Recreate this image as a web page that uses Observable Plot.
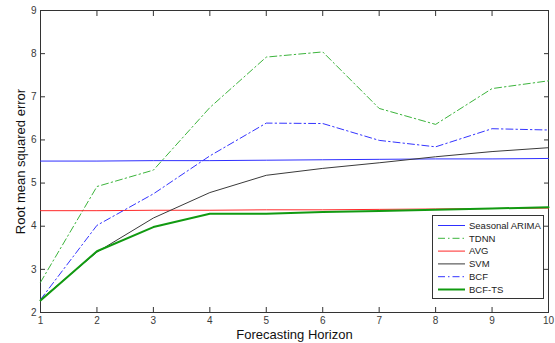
<!DOCTYPE html>
<html><head><meta charset="utf-8">
<script src="https://cdn.jsdelivr.net/npm/d3@7"></script>
<script src="https://cdn.jsdelivr.net/npm/@observablehq/plot@0.6"></script>
<style>
body{margin:0;background:#fff;font-family:"Liberation Sans",Arial,sans-serif;}
#wrap{position:relative;width:555px;height:343px;}
#legend{position:absolute;left:0;top:0;}
</style></head><body><div id="wrap"></div>
<script>
const horizon = [1, 2, 3, 4, 5, 6, 7, 8, 9, 10];
const yTicks = [2, 3, 4, 5, 6, 7, 8, 9];
const seriesNames = ["Seasonal ARIMA", "TDNN", "AVG", "SVM", "BCF", "BCF-TS"];
const seasonalArima = [5.51, 5.51, 5.52, 5.52, 5.53, 5.54, 5.55, 5.56, 5.56, 5.57];
const tdnn = [2.70, 4.92, 5.30, 6.75, 7.92, 8.04, 6.73, 6.36, 7.19, 7.37];
const avg = [4.36, 4.36, 4.37, 4.37, 4.38, 4.38, 4.39, 4.40, 4.41, 4.42];
const svm = [2.30, 3.40, 4.19, 4.78, 5.18, 5.34, 5.47, 5.61, 5.73, 5.82];
const bcf = [2.30, 4.02, 4.75, 5.63, 6.39, 6.38, 5.99, 5.84, 6.26, 6.23];
const bcfTs = [2.28, 3.42, 3.98, 4.29, 4.29, 4.33, 4.35, 4.38, 4.41, 4.44];

const valuesBySeries = [seasonalArima, tdnn, avg, svm, bcf, bcfTs];
const styles = {
  "Seasonal ARIMA": {stroke: "#2f2fff", strokeWidth: 1, dash: null},
  "TDNN": {stroke: "#3cb43c", strokeWidth: 1, dash: "7,3,1.5,3"},
  "AVG": {stroke: "#ff2828", strokeWidth: 1, dash: null},
  "SVM": {stroke: "#3a3a3a", strokeWidth: 1, dash: null},
  "BCF": {stroke: "#3434ff", strokeWidth: 1, dash: "7,3,1.5,3"},
  "BCF-TS": {stroke: "#119a11", strokeWidth: 2, dash: null}
};

const rows = seriesNames.map((name, k) => horizon.map((h, i) => ({series: name, h, v: valuesBySeries[k][i]})));

const chart = Plot.plot({
  width: 555,
  height: 343,
  marginLeft: 40,
  marginRight: 7,
  marginTop: 10,
  marginBottom: 31,
  style: {fontFamily: '"Liberation Sans", Arial, sans-serif', background: "#fff", color: "#3a3a3a"},
  x: {domain: [1, 10]},
  y: {domain: [2, 9]},
  marks: [
    Plot.frame({stroke: "#333", strokeWidth: 1}),
    Plot.axisX({ticks: horizon, tickSize: -5, tickPadding: 9, tickFormat: d3.format("d"), label: null, fontSize: 10, color: "#3a3a3a", stroke: "#333"}),
    Plot.axisX({anchor: "top", ticks: horizon, tickSize: -5, tickFormat: () => "", label: null, stroke: "#333"}),
    Plot.axisY({ticks: yTicks, tickSize: -5, tickPadding: 9, tickFormat: d3.format("d"), label: null, fontSize: 10, color: "#3a3a3a", stroke: "#333"}),
    Plot.axisY({anchor: "right", ticks: yTicks, tickSize: -5, tickFormat: () => "", label: null, stroke: "#333"}),
    ...rows.map((r, k) => {
      const s = styles[seriesNames[k]];
      return Plot.line(r, {x: "h", y: "v", stroke: s.stroke, strokeWidth: s.strokeWidth, strokeDasharray: s.dash});
    }),
    Plot.text(["Forecasting Horizon"], {frameAnchor: "bottom", lineAnchor: "middle", textAnchor: "middle", dy: 22, text: d => d, fontSize: 13, fill: "#111"}),
    Plot.text(["Root mean squared error"], {frameAnchor: "left", textAnchor: "middle", lineAnchor: "middle", dx: -20, rotate: -90, text: d => d, fontSize: 13, fill: "#111"})
  ]
});
const wrap = document.getElementById("wrap");
wrap.appendChild(chart);

// Legend overlay
const lg = d3.select(wrap).append("svg").attr("id", "legend").attr("width", 555).attr("height", 343);
lg.append("rect").attr("x", 432.5).attr("y", 215.5).attr("width", 111).attr("height", 83)
  .attr("fill", "#fff").attr("stroke", "#333");
seriesNames.forEach((name, i) => {
  const s = styles[name];
  const y = 225.5 + i * 12.8;
  lg.append("line").attr("x1", 438).attr("x2", 465).attr("y1", y).attr("y2", y)
    .attr("stroke", s.stroke).attr("stroke-width", s.strokeWidth).attr("stroke-dasharray", s.dash);
  lg.append("text").attr("x", 469).attr("y", y).attr("dy", "0.35em")
    .attr("font-size", 9.5).attr("fill", "#222").attr("font-family", '"Liberation Sans", Arial, sans-serif').text(name);
});
</script></body></html>
